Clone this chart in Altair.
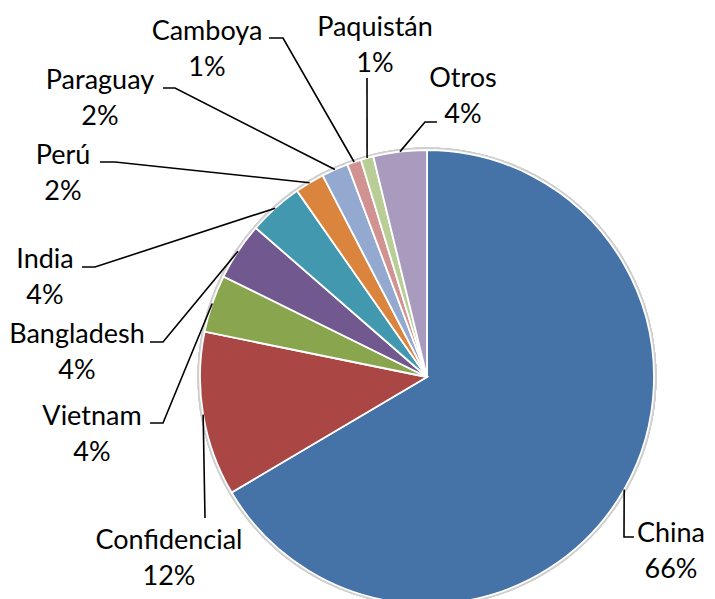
import altair as alt
import pandas as pd
import numpy as np

# ---- data ----
countries = ["China", "Confidencial", "Vietnam", "Bangladesh", "India",
             "Perú", "Paraguay", "Camboya", "Paquistán", "Otros"]
shares = [66.5, 11.7, 4.1, 4.1, 3.9, 2.1, 1.9, 1.0, 0.9, 3.8]
pct_labels = ["66%", "12%", "4%", "4%", "4%", "2%", "2%", "1%", "1%", "4%"]
colors = ["#4572A7", "#AA4643", "#89A54E", "#71588F", "#4198AF",
          "#DB843D", "#93A9CF", "#D19392", "#B9CD96", "#A99BBD"]

# ---- layout (pixels, offsets from pie centre, y pointing down) ----
R = 227
W, H = 699, 591
CX, CY = 419, 369          # pie centre inside plot area
LINE_GAP = 36
label_xy = {
    "China": (244, 155), "Confidencial": (-258, 162), "Vietnam": (-335, 38),
    "Bangladesh": (-350, -44), "India": (-382, -119), "Perú": (-364, -223),
    "Paraguay": (-327, -298), "Camboya": (-220, -347), "Paquistán": (-52, -351),
    "Otros": (36, -300),
}
elbows = {
    "China": [(197, 160), (207, 160)],
    "Confidencial": [(-222, 141)],
    "Vietnam": [(-264, 46), (-277, 46)],
    "Bangladesh": [(-264, -35), (-277, -35)],
    "India": [(-332, -110), (-345, -110)],
    "Perú": [(-312, -215), (-327, -215)],
    "Paraguay": [(-252, -289), (-264, -289)],
    "Camboya": [(-144, -339), (-158, -339)],
    "Paquistán": [(-60, -299)],
    "Otros": [(-2, -255), (10, -255)],
}

df = pd.DataFrame({"country": countries, "share": shares,
                   "pct": pct_labels, "order": range(len(countries))})

total = sum(shares)
cum = np.cumsum(shares)
mid = 2 * np.pi * (cum - np.array(shares) / 2) / total

rows = []
for i, c in enumerate(countries):
    rows.append({"country": c, "seq": 0, "x": np.sin(mid[i]), "y": np.cos(mid[i])})
    for j, (dx, dy) in enumerate(elbows[c]):
        rows.append({"country": c, "seq": j + 1, "x": dx / R, "y": -dy / R})
line_df = pd.DataFrame(rows)

lab_df = pd.DataFrame({
    "country": countries,
    "pct": pct_labels,
    "x": [label_xy[c][0] / R for c in countries],
    "y": [-label_xy[c][1] / R for c in countries],
    "y2": [-(label_xy[c][1] + LINE_GAP) / R for c in countries],
})

xs = alt.Scale(domain=[-CX / R, (W - CX) / R], nice=False, zero=False)
ys = alt.Scale(domain=[-(H - CY) / R, CY / R], nice=False, zero=False)
X0 = alt.X(datum=0, type="quantitative", scale=xs, axis=None)
Y0 = alt.Y(datum=0, type="quantitative", scale=ys, axis=None)

shadow = alt.Chart(df).mark_arc(
    outerRadius=R + 2.5, theta=0, theta2=2 * np.pi, color="#cfcfcf", opacity=0.6
).encode(x=X0, y=Y0)

pie = alt.Chart(df).mark_arc(outerRadius=R, stroke="white", strokeWidth=1.8).encode(
    theta=alt.Theta("share:Q", stack=True),
    order=alt.Order("order:Q"),
    color=alt.Color("country:N", scale=alt.Scale(domain=countries, range=colors), legend=None),
    x=X0, y=Y0,
)

lines = alt.Chart(line_df).mark_line(color="black", strokeWidth=1.6).encode(
    x=alt.X("x:Q", scale=xs, axis=None),
    y=alt.Y("y:Q", scale=ys, axis=None),
    detail="country:N",
    order="seq:Q",
)

txt_kw = dict(font="Lato", fontSize=27, color="black", align="center", baseline="middle", dy=2)
names = alt.Chart(lab_df).mark_text(**txt_kw).encode(
    x=alt.X("x:Q", scale=xs, axis=None), y=alt.Y("y:Q", scale=ys, axis=None), text="country:N")
pcts = alt.Chart(lab_df).mark_text(**txt_kw).encode(
    x=alt.X("x:Q", scale=xs, axis=None), y=alt.Y("y2:Q", scale=ys, axis=None), text="pct:N")

chart = alt.layer(shadow, pie, lines, names, pcts).properties(
    width=W, height=H, padding=0, autosize=alt.AutoSizeParams(type="none")
).configure_view(stroke=None)

chart.save("out.html", embed_options={"renderer": "svg", "actions": False})
